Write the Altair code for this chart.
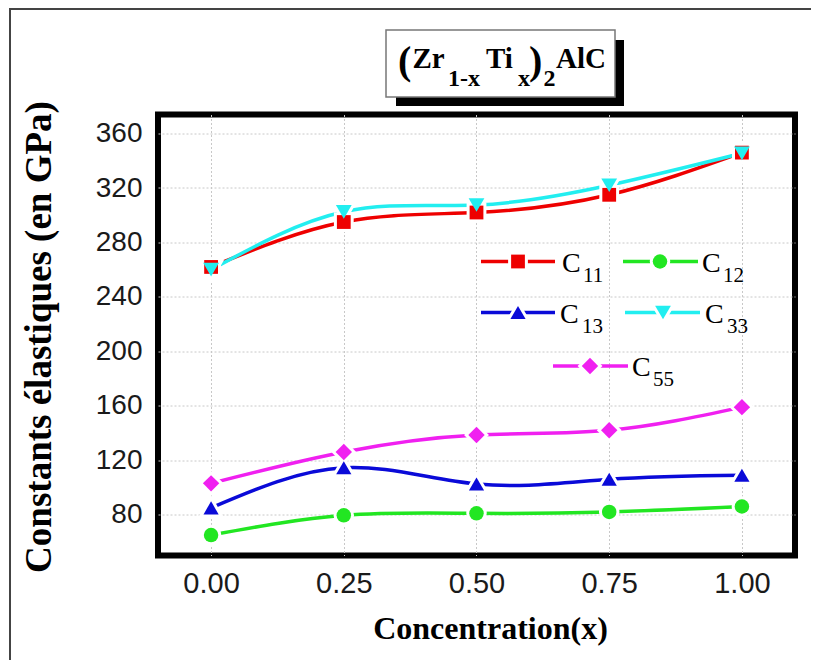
import altair as alt
import pandas as pd

# ---- data ----
conc = [0.0, 0.25, 0.5, 0.75, 1.0]
c11 = [262, 295, 302, 315, 346]
c12 = [65, 79.5, 81, 82, 86]
c13 = [85, 114.5, 102.5, 106, 109]
c33 = [260, 302.5, 307.5, 322, 345.5]
c55 = [103, 126, 138.5, 142, 159]

names = ["C11", "C12", "C13", "C33", "C55"]
subs = ["11", "12", "13", "33", "55"]
colors = ["#ee0000", "#22e622", "#0a0ad8", "#22eef0", "#f020f0"]
shapes = ["square", "circle", "triangle-up", "triangle-down", "diamond"]
sizes = [190, 270, 400, 400, 340]

x_ticks = [0.0, 0.25, 0.5, 0.75, 1.0]
y_ticks = [80, 120, 160, 200, 240, 280, 320, 360]

rows = []
for name, vals in zip(names, [c11, c12, c13, c33, c55]):
    for xv, yv in zip(conc, vals):
        rows.append({"series": name, "x": xv, "y": yv})
df = pd.DataFrame(rows)

W, H = 637, 441

color_s = alt.Scale(domain=names, range=colors)
shape_s = alt.Scale(domain=names, range=shapes)
size_s = alt.Scale(domain=names, range=sizes)

xs = alt.Scale(domain=[-0.1, 1.1], nice=False, zero=False)
ys = alt.Scale(domain=[50, 374], nice=False, zero=False)

base = alt.Chart(df)

lines = base.mark_line(interpolate="natural", strokeWidth=3.5).encode(
    x=alt.X("x:Q", scale=xs,
            axis=alt.Axis(values=x_ticks, format=".2f", title="Concentration(x)",
                          titleX=332, titleY=83, titleBaseline="alphabetic",
                          labelPadding=14)),
    y=alt.Y("y:Q", scale=ys,
            axis=alt.Axis(values=y_ticks, title="Constants élastiques (en GPa)",
                          titleX=-108, titleY=222, titleBaseline="alphabetic",
                          labelPadding=16)),
    color=alt.Color("series:N", scale=color_s, legend=None),
    detail="series:N",
)

halo = base.mark_point(filled=True, opacity=1, stroke="white", strokeWidth=6).encode(
    x=alt.X("x:Q", scale=xs),
    y=alt.Y("y:Q", scale=ys),
    shape=alt.Shape("series:N", scale=shape_s, legend=None),
    size=alt.Size("series:N", scale=size_s, legend=None),
    color=alt.value("white"),
)

pts = base.mark_point(filled=True, opacity=1).encode(
    x=alt.X("x:Q", scale=xs),
    y=alt.Y("y:Q", scale=ys),
    shape=alt.Shape("series:N", scale=shape_s, legend=None),
    size=alt.Size("series:N", scale=size_s, legend=None),
    color=alt.Color("series:N", scale=color_s, legend=None),
)

# ---- custom legend (layout in pixels) ----
leg = pd.DataFrame({
    "series": names,
    "sub": subs,
    "ly": [147, 147, 198, 198, 251.5],
    "lx1": [323, 465, 323, 467, 395],
    "lx2": [397, 540, 397, 542, 470],
    "mx": [360, 502, 360, 505, 432],
    "cx": [404, 544, 402, 547, 474],
    "sx": [425, 565, 424, 569, 495],
})
leg["cy"] = leg["ly"] + 10
leg["sy"] = leg["ly"] + 20
lbase = alt.Chart(leg)
leg_lines = lbase.mark_rule(strokeWidth=3.5).encode(
    x=alt.X("lx1:Q", scale=None), x2="lx2:Q", y=alt.Y("ly:Q", scale=None),
    color=alt.Color("series:N", scale=color_s, legend=None),
)
leg_halo = lbase.mark_point(filled=True, opacity=1, stroke="white", strokeWidth=6).encode(
    x=alt.X("mx:Q", scale=None), y=alt.Y("ly:Q", scale=None),
    shape=alt.Shape("series:N", scale=shape_s, legend=None),
    size=alt.Size("series:N", scale=size_s, legend=None),
    color=alt.value("white"),
)
leg_pts = lbase.mark_point(filled=True, opacity=1).encode(
    x=alt.X("mx:Q", scale=None), y=alt.Y("ly:Q", scale=None),
    shape=alt.Shape("series:N", scale=shape_s, legend=None),
    size=alt.Size("series:N", scale=size_s, legend=None),
    color=alt.Color("series:N", scale=color_s, legend=None),
)
leg_c = lbase.mark_text(text="C", align="left", baseline="alphabetic",
                        font="Liberation Serif", fontSize=28, color="black").encode(
    x=alt.X("cx:Q", scale=None), y=alt.Y("cy:Q", scale=None))
leg_sub = lbase.mark_text(align="left", baseline="alphabetic",
                          font="Liberation Serif", fontSize=21, color="black").encode(
    x=alt.X("sx:Q", scale=None), y=alt.Y("sy:Q", scale=None), text="sub:N")

# ---- title box and outer frame ----
one = alt.Data(values=[{}])
frame = alt.Chart(one).mark_rect(fill=None, stroke="#444", strokeWidth=2).encode(
    x=alt.value(-148), x2=alt.value(700), y=alt.value(-105.5), y2=alt.value(640))
shadow = alt.Chart(one).mark_rect(fill="black").encode(
    x=alt.value(238), x2=alt.value(466), y=alt.value(-74.5), y2=alt.value(-8.5))
box = alt.Chart(one).mark_rect(fill="white", stroke="#777", strokeWidth=1.5).encode(
    x=alt.value(228), x2=alt.value(457), y=alt.value(-84.5), y2=alt.value(-17.5))

def ttext(t, x, y, size):
    return alt.Chart(one).mark_text(text=t, align="left", baseline="alphabetic",
                                    font="Liberation Serif", fontWeight="bold",
                                    fontSize=size, color="black").encode(
        x=alt.value(x), y=alt.value(y))

title_parts = [
    ttext("(", 240, -41, 40),
    ttext("Zr", 254.5, -47, 29),
    ttext("1-x", 290, -28.5, 24),
    ttext("Ti", 328, -47, 29),
    ttext("x", 360, -28.5, 24),
    ttext(")", 371, -41, 40),
    ttext("2", 385.5, -28.5, 24),
    ttext("AlC", 398, -47, 29),
]

chart = alt.layer(
    frame, lines, halo, pts, leg_lines, leg_halo, leg_pts, leg_c, leg_sub,
    shadow, box, *title_parts
).properties(
    width=W, height=H,
    autosize=alt.AutoSizeParams(type="none"),
    padding={"left": 150, "top": 106.5, "right": 16, "bottom": 112},
    background="white",
).configure_view(
    stroke="black", strokeWidth=6
).configure_axis(
    grid=True, gridColor="#c8c8c8", gridDash=[2, 2], gridWidth=1,
    ticks=False, domain=False,
    labelFont="Liberation Sans", labelColor="#1a1a1a",
    titleFont="Liberation Serif", titleFontWeight="bold", titleColor="black",
).configure_axisX(
    labelFontSize=29, titleFontSize=32,
).configure_axisY(
    labelFontSize=28, titleFontSize=37,
)

chart.save("out.html", embed_options={"renderer": "svg", "actions": False})
